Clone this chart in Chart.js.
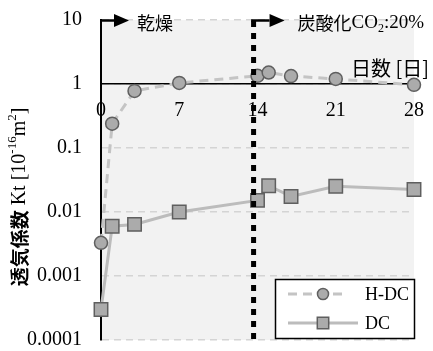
<!DOCTYPE html>
<html>
<head>
<meta charset="utf-8">
<script src="https://cdn.jsdelivr.net/npm/chart.js@4.4.1/dist/chart.umd.min.js"></script>
<style>
  html, body { margin: 0; padding: 0; background: #ffffff; }
  #wrap { width: 433px; height: 351px; }
</style>
</head>
<body>
<div id="wrap"><canvas id="c" width="433" height="351"></canvas></div>
<script>
// Elapsed days and air permeability coefficient Kt [10^-16 m^2]
const days   = [0, 1, 3, 7, 14, 15, 17, 21, 28];
const hdcKt  = [0.0033, 0.24, 0.78, 1.04, 1.34, 1.51, 1.33, 1.2, 0.97];
const dcKt   = [0.0003, 0.006, 0.0064, 0.01, 0.0152, 0.0257, 0.0175, 0.0253, 0.0225];
const seriesNames = ['H-DC', 'DC'];

const xTicks = [0, 7, 14, 21, 28];
const yTicks = [0.0001, 0.001, 0.01, 0.1, 1, 10];
const yTickLabels = ['0.0001', '0.001', '0.01', '0.1', '1', '10'];

// Day on which drying ends and CO2 exposure begins
const carbonationStartDay = 13.65;

const SERIF = '"Liberation Serif", "Times New Roman", serif';
const GOTHIC = '"Noto Sans CJK JP", "Noto Sans", sans-serif';

const hdcStyle = {
  pointStyle: 'circle', radius: 6.5, fill: '#ababab', stroke: '#5f5f5f',
  line: '#c4c4c4', dash: [9, 6]
};
const dcStyle = {
  pointStyle: 'rect', radius: 9.5, fill: '#ababab', stroke: '#5f5f5f',
  line: '#bcbcbc', dash: []
};

function drawRuns(ctx, runs, x, y) {
  let cx = x;
  for (const r of runs) {
    ctx.font = r.font;
    ctx.fillText(r.t, cx, y + (r.dy || 0));
    cx += ctx.measureText(r.t).width;
  }
  return cx;
}
function runsWidth(ctx, runs) {
  let w = 0;
  for (const r of runs) { ctx.font = r.font; w += ctx.measureText(r.t).width; }
  return w;
}

function arrow(ctx, x0, xBase, xTip, y) {
  ctx.save();
  ctx.strokeStyle = '#000';
  ctx.fillStyle = '#000';
  ctx.lineWidth = 2.5;
  ctx.beginPath();
  ctx.moveTo(x0, y);
  ctx.lineTo(xBase, y);
  ctx.stroke();
  ctx.beginPath();
  ctx.moveTo(xBase, y - 6.5);
  ctx.lineTo(xTip, y);
  ctx.lineTo(xBase, y + 6.5);
  ctx.closePath();
  ctx.fill();
  ctx.restore();
}

const decorPlugin = {
  id: 'decor',
  beforeDraw(chart) {
    const { ctx, chartArea: a } = chart;
    ctx.save();
    ctx.fillStyle = '#f2f2f2';
    ctx.fillRect(a.left, a.top, a.right - a.left, a.bottom - a.top);
    ctx.restore();
  },
  afterDatasetsDraw(chart) {
    const { ctx, chartArea: a, scales } = chart;
    const xs = scales.x;
    const sx = xs.getPixelForValue(carbonationStartDay);

    // stage boundary
    ctx.save();
    ctx.strokeStyle = '#000';
    ctx.lineWidth = 5;
    ctx.setLineDash([6, 6]);
    ctx.beginPath();
    ctx.moveTo(sx, a.top + 1);
    ctx.lineTo(sx, a.bottom);
    ctx.stroke();
    ctx.restore();

    // stage arrows and captions
    const ay = a.top + 0.5;
    arrow(ctx, a.left - 1, a.left + 13, a.left + 28, ay);
    arrow(ctx, sx - 2.5, sx + 16, sx + 31, ay);

    ctx.save();
    ctx.fillStyle = '#000';
    ctx.textBaseline = 'middle';
    ctx.textAlign = 'left';
    drawRuns(ctx, [{ t: '乾燥', font: '18px ' + GOTHIC }], a.left + 36, ay + 3);
    drawRuns(ctx, [
      { t: '炭酸化', font: '18px ' + GOTHIC },
      { t: 'CO', font: '19px ' + SERIF },
      { t: '2', font: '12px ' + SERIF, dy: 5 },
      { t: ':20%', font: '19px ' + SERIF }
    ], sx + 44, ay + 3);

    // x axis title
    ctx.textBaseline = 'alphabetic';
    drawRuns(ctx, [{ t: '日数 [日]', font: '20px ' + GOTHIC }], 351, 76);
    ctx.restore();

    // legend
    const lx = 275, ly = 279, lw = 139, lh = 59;
    ctx.save();
    ctx.fillStyle = '#ffffff';
    ctx.fillRect(lx, ly, lw, lh);
    ctx.strokeStyle = '#000';
    ctx.lineWidth = 1.5;
    ctx.strokeRect(lx + 0.5, ly + 0.5, lw, lh);
    const rows = [
      { name: seriesNames[0], s: hdcStyle, y: 294, x1: 288, x2: 348 },
      { name: seriesNames[1], s: dcStyle, y: 323, x1: 288, x2: 358 }
    ];
    for (const r of rows) {
      ctx.save();
      ctx.strokeStyle = r.s.line;
      ctx.lineWidth = 3;
      ctx.setLineDash(r.s.dash);
      ctx.beginPath();
      ctx.moveTo(r.x1, r.y);
      ctx.lineTo(r.x2, r.y);
      ctx.stroke();
      ctx.restore();
      ctx.fillStyle = r.s.fill;
      ctx.strokeStyle = r.s.stroke;
      ctx.lineWidth = 1.5;
      Chart.helpers.drawPoint(ctx, {
        pointStyle: r.s.pointStyle, radius: r.s.radius * 0.85, rotation: 0, borderWidth: 1.5
      }, 323, r.y);
      ctx.fillStyle = '#000';
      ctx.font = '18px ' + SERIF;
      ctx.textBaseline = 'middle';
      ctx.fillText(r.name, 365, r.y + 1);
    }
    ctx.restore();
  },
  afterDraw(chart) {
    const { ctx } = chart;
    // y axis title
    const runs = [
      { t: '透気係数', font: 'bold 19px ' + GOTHIC },
      { t: ' Kt [10', font: '20px ' + SERIF },
      { t: '-16', font: '13px ' + SERIF, dy: -7 },
      { t: 'm', font: '20px ' + SERIF },
      { t: '2', font: '13px ' + SERIF, dy: -7 },
      { t: ']', font: '20px ' + SERIF }
    ];
    ctx.save();
    ctx.translate(20, 197);
    ctx.rotate(-Math.PI / 2);
    ctx.fillStyle = '#000';
    ctx.textBaseline = 'middle';
    ctx.textAlign = 'left';
    const w = runsWidth(ctx, runs);
    drawRuns(ctx, runs, -w / 2, 0);
    ctx.restore();
  }
};

const ctx = document.getElementById('c').getContext('2d');
new Chart(ctx, {
  type: 'line',
  data: {
    datasets: [
      {
        label: seriesNames[0],
        data: days.map((d, i) => ({ x: d, y: hdcKt[i] })),
        borderColor: hdcStyle.line,
        borderWidth: 3,
        borderDash: hdcStyle.dash,
        pointStyle: hdcStyle.pointStyle,
        pointRadius: hdcStyle.radius,
        pointBackgroundColor: hdcStyle.fill,
        pointBorderColor: hdcStyle.stroke,
        pointBorderWidth: 1.5,
        tension: 0,
        clip: false
      },
      {
        label: seriesNames[1],
        data: days.map((d, i) => ({ x: d, y: dcKt[i] })),
        borderColor: dcStyle.line,
        borderWidth: 3,
        pointStyle: dcStyle.pointStyle,
        pointRadius: dcStyle.radius,
        pointBackgroundColor: dcStyle.fill,
        pointBorderColor: dcStyle.stroke,
        pointBorderWidth: 1.5,
        tension: 0,
        clip: false
      }
    ]
  },
  options: {
    responsive: false,
    animation: false,
    devicePixelRatio: 1,
    layout: { padding: { left: 0, right: 19, top: 20, bottom: 11 } },
    plugins: { legend: { display: false }, tooltip: { enabled: false } },
    scales: {
      x: {
        type: 'linear',
        position: { y: 1 },
        min: 0,
        max: 28,
        afterFit: s => { s.height = 0; s.paddingLeft = 0; s.paddingRight = 0; },
        afterBuildTicks: s => { s.ticks = xTicks.map(v => ({ value: v })); },
        grid: { display: true, color: 'rgba(0,0,0,0)', drawTicks: false },
        border: { display: true, color: '#000', width: 1.5 },
        ticks: {
          autoSkip: false,
          maxRotation: 0,
          padding: 15,
          color: '#000',
          font: { family: SERIF, size: 20 },
          callback: v => String(v)
        }
      },
      y: {
        type: 'logarithmic',
        min: 0.0001,
        max: 10,
        afterFit: s => { s.width = 101; s.paddingTop = 0; s.paddingBottom = 0; },
        afterBuildTicks: s => { s.ticks = yTicks.map(v => ({ value: v })); },
        grid: { color: '#d4d4d4', lineWidth: 1.5, drawTicks: false },
        border: { display: true, color: '#000', width: 2, dash: [7, 5] },
        ticks: {
          autoSkip: false,
          padding: 19,
          color: '#000',
          font: { family: SERIF, size: 20 },
          callback: v => {
            const i = yTicks.findIndex(t => Math.abs(Math.log10(t) - Math.log10(v)) < 1e-6);
            return i >= 0 ? yTickLabels[i] : '';
          }
        }
      }
    }
  },
  plugins: [decorPlugin]
});
</script>
</body>
</html>
